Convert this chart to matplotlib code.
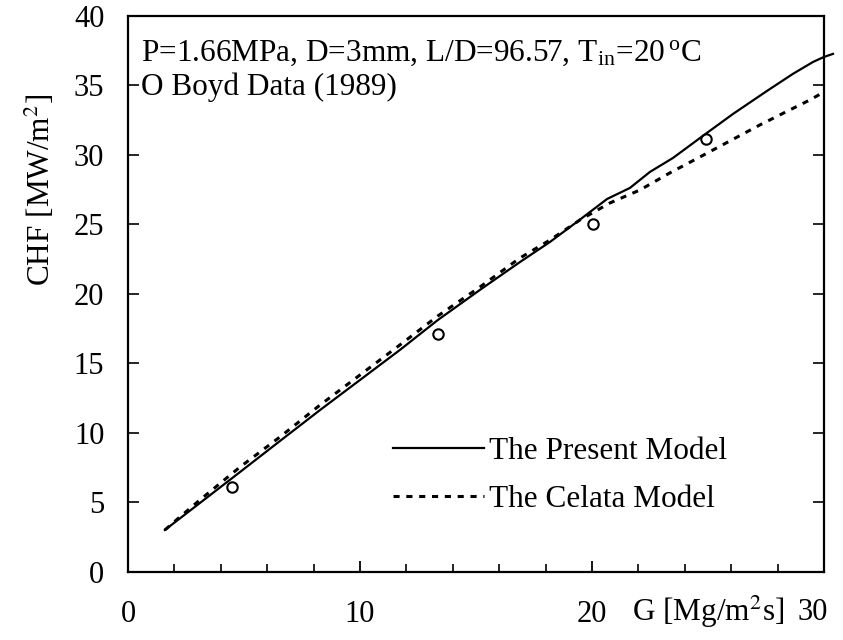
import matplotlib
matplotlib.use("Agg")
import matplotlib.pyplot as plt
import numpy as np
from matplotlib.lines import Line2D

plt.rcParams['font.family'] = ['Liberation Serif', 'DejaVu Serif']
plt.rcParams['mathtext.fontset'] = 'stix'

# Boyd data (1989)
boyd_g = [4.48, 13.36, 20.04, 24.91]
boyd_chf = [6.12, 17.12, 25.04, 31.15]

# The present model (solid)
present_g = [1.59, 3.10, 4.83, 6.55, 8.28, 10.0, 11.72, 13.36, 15.17, 16.90, 18.19,
             19.35, 20.65, 21.64, 22.50, 23.49, 24.78, 26.08, 27.54, 28.66, 29.53, 30.0, 30.39]
present_chf = [3.02, 4.96, 7.19, 9.42, 11.65, 13.81, 15.97, 18.13, 20.29, 22.30, 23.74,
               25.18, 26.83, 27.63, 28.78, 29.78, 31.37, 32.95, 34.60, 35.83, 36.69, 37.05, 37.27]

# The Celata model (dashed)
celata_g = [1.59, 2.24, 3.10, 4.83, 6.55, 8.28, 10.0, 11.72, 13.36, 15.17, 16.90, 18.19,
            19.48, 20.78, 22.07, 23.36, 24.66, 25.95, 27.24, 28.53, 29.40, 30.0]
celata_chf = [3.02, 3.96, 5.18, 7.55, 9.71, 12.01, 14.17, 16.33, 18.42, 20.50, 22.59, 23.88,
              25.32, 26.55, 27.48, 28.71, 29.86, 31.01, 32.16, 33.24, 33.96, 34.53]

xticks = [0, 10, 20, 30]
yticks = [0, 5, 10, 15, 20, 25, 30, 35, 40]

fs = 22.5
tfs = 22

fig = plt.figure(figsize=(8.43, 6.4), dpi=100)
ax = fig.add_axes([0.1518, 0.1063, 0.8256, 0.8688])

ax.plot(present_g, present_chf, color='black', lw=1.6, clip_on=False)
ax.plot(celata_g, celata_chf, color='black', lw=2.2, ls=(0, (2.0, 2.2)), clip_on=False)
ax.plot(boyd_g, boyd_chf, 'o', mfc='none', mec='black', ms=7.5, mew=1.5)

ax.set_xlim(0, 30)
ax.set_ylim(0, 40)

ax.set_xticks(xticks)
ax.set_xticks(np.arange(2, 30, 2), minor=True)
ax.tick_params(axis='x', which='major', direction='in', length=8, width=1.3,
               labelsize=tfs, pad=20)
ax.tick_params(axis='x', which='minor', direction='in', length=6, width=1.2)
ax.set_xticklabels(['0', '10', '20', ''])

ax.set_yticks(yticks)
ax.tick_params(axis='y', which='major', direction='in', length=8, width=1.2,
               right=True, labelsize=tfs, pad=17)

for s in ax.spines.values():
    s.set_linewidth(1.6)

ax.text(0.019, 0.931, r'P=1.66MPa, D=3mm, L/D=96.57, T$_{\mathregular{in}}$=20$\,^{\mathregular{o}}$C',
        transform=ax.transAxes, fontsize=fs, va='center', ha='left')
ax.text(0.019, 0.871, 'O Boyd Data (1989)', transform=ax.transAxes,
        fontsize=fs, va='center', ha='left')

handles = [Line2D([], [], color='black', lw=1.6),
           Line2D([], [], color='black', lw=2.2, ls=(0, (2.0, 2.2)))]
ax.legend(handles, ['The Present Model', 'The Celata Model'], loc='lower left',
          bbox_to_anchor=(0.381, 0.104), frameon=False, fontsize=fs,
          handlelength=2.9, handletextpad=0.16, labelspacing=0.62,
          borderaxespad=0, borderpad=0)

# "30" sits at the right edge, after the axis title
fig.text(813 / 843, 1 - 612 / 640, '30', fontsize=tfs, ha='center', va='center')
fig.text(708 / 843, 1 - 612 / 640, 'G [Mg/m$^2$s]', fontsize=fs, ha='center', va='center')
fig.text(40 / 843, 1 - 190 / 640, 'CHF [MW/m$^2$]', fontsize=fs, ha='center',
         va='center', rotation=90)

fig.savefig('out.png', dpi=100)
